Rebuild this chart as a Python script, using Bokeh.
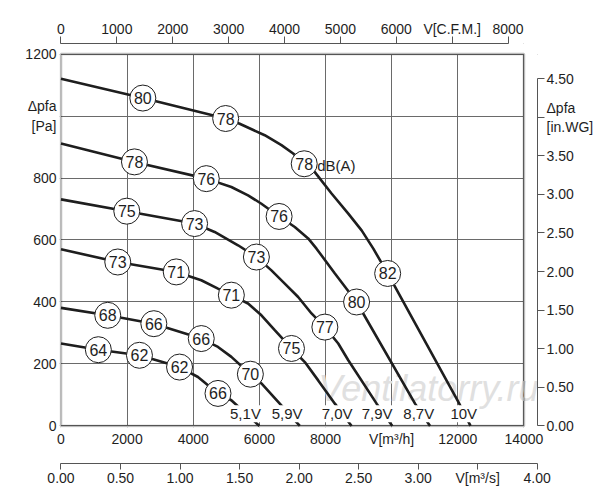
from bokeh.plotting import figure
from bokeh.models import (Range1d, LinearAxis, FixedTicker, BoxAnnotation, Label,
                          LabelSet, ColumnDataSource, Grid, PrintfTickFormatter)
from bokeh.core.properties import value
from bokeh.embed import file_html
from bokeh.resources import INLINE

# ---------------- data ----------------
flow_ticks = [0, 2000, 4000, 6000, 8000, 10000, 12000, 14000]      # m3/h
pa_ticks = [0, 200, 400, 600, 800, 1000, 1200]                      # Pa
cfm_ticks = [0, 1000, 2000, 3000, 4000, 5000, 6000, 7000, 8000]     # CFM
m3s_ticks = [0.0, 0.5, 1.0, 1.5, 2.0, 2.5, 3.0, 3.5, 4.0]           # m3/s
inwg_ticks = [0.0, 0.5, 1.0, 1.5, 2.0, 2.5, 3.0, 3.5, 4.0, 4.5]     # in.WG

q_10V = [0, 2475, 4980, 5403, 6161, 6667, 7021, 7355, 7676, 8182, 8688, 9091, 9445, 9879, 12020, 12384]
p_10V = [1120, 1058, 992, 975, 938, 906, 879, 846, 819, 750, 685, 631, 572, 492, 77, 0]

q_87V = [0, 2222, 4394, 5152, 5657, 6061, 6596, 7070, 7475, 7727, 8283, 8939, 10707, 11161]
p_87V = [911, 852, 798, 771, 744, 717, 676, 642, 605, 572, 492, 400, 72, 0]

q_79V = [0, 1990, 4040, 4646, 5354, 5909, 6364, 6767, 7172, 7576, 7980, 8384, 8688, 9545, 10020]
p_79V = [731, 693, 653, 626, 583, 545, 502, 459, 416, 363, 319, 266, 212, 72, 0]

q_70V = [0, 1717, 3485, 4242, 4748, 5152, 5657, 6061, 6464, 6970, 7373, 7778, 8283, 8788]
p_70V = [570, 529, 497, 470, 443, 422, 395, 357, 309, 250, 206, 147, 72, 0]

q_59V = [0, 1414, 2808, 4242, 4748, 5152, 5727, 6061, 6616, 7222]
p_59V = [381, 357, 330, 282, 255, 223, 167, 137, 72, 0]

q_51V = [0, 1130, 2373, 3585, 4142, 4748, 5151, 6000]
p_51V = [266, 246, 228, 190, 158, 105, 83, 0]

curves = [(q_10V, p_10V), (q_87V, p_87V), (q_79V, p_79V),
          (q_70V, p_70V), (q_59V, p_59V), (q_51V, p_51V)]

# sound level markers dB(A)
db_q = [2475, 4980, 7355, 9879,
        2222, 4394, 6596, 8939,
        1990, 4040, 5909, 7980,
        1717, 3485, 5152, 6970,
        1414, 2808, 4242, 5727,
        1130, 2373, 3585, 4748]
db_p = [1058, 992, 846, 492,
        852, 798, 676, 400,
        693, 653, 545, 319,
        529, 497, 422, 250,
        357, 330, 282, 167,
        246, 228, 190, 105]
db_text = ["80", "78", "78", "82",
           "78", "76", "76", "80",
           "75", "73", "73", "77",
           "73", "71", "71", "75",
           "68", "66", "66", "70",
           "64", "62", "62", "66"]

# control voltage labels
volt_q = [5579, 6840, 8352, 9562, 10820, 12181]
volt_p = [39, 39, 39, 39, 39, 39]
volt_text = ["5,1V", "5,9V", "7,0V", "7,9V", "8,7V", "10V"]

M3H_PER_CFM = 1.69
M3H_PER_M3S = 3600.0
PA_PER_INWG = 249.09

# ---------------- figure ----------------
FONT = "Liberation Sans"
INK = "#1e1e1e"
X0, X1 = -45, 14410
Y0, Y1 = -5, 1234

p = figure(frame_width=478, frame_height=384,
           x_range=Range1d(X0, X1), y_range=Range1d(Y0, Y1),
           x_axis_type=None, y_axis_type=None,
           output_backend="svg", toolbar_location=None,
           min_border_left=59, min_border_top=43, min_border_right=4,
           min_border_bottom=4, background_fill_color="white",
           border_fill_color="white")
p.outline_line_color = None

p.extra_x_ranges = {"cfm": Range1d(X0 / M3H_PER_CFM, X1 / M3H_PER_CFM),
                    "m3s": Range1d(X0 / M3H_PER_M3S, X1 / M3H_PER_M3S)}
p.extra_y_ranges = {"inwg": Range1d(Y0 / PA_PER_INWG, Y1 / PA_PER_INWG)}


def style(ax, line=True, tick_out=0, standoff=3):
    ax.major_label_text_font = FONT
    ax.major_label_text_font_size = "14px"
    ax.major_label_text_color = INK
    ax.minor_tick_line_color = None
    ax.major_tick_in = 0
    ax.major_tick_out = tick_out
    ax.major_label_standoff = standoff
    if line:
        ax.axis_line_color = "#555555"
        ax.axis_line_width = 1
        ax.major_tick_line_color = "#555555"
    else:
        ax.axis_line_color = None
        ax.major_tick_line_color = None


# left: Pa
ax_pa = LinearAxis(ticker=FixedTicker(ticks=pa_ticks),
                   major_label_overrides={1000: "Δpfa\n[Pa]"})
style(ax_pa, line=False, standoff=3)
p.add_layout(ax_pa, "left")

# below: m3/h
ax_m3h = LinearAxis(ticker=FixedTicker(ticks=flow_ticks),
                    major_label_overrides={10000: "V[m³/h]"},
                    axis_label=" ", axis_label_text_font_size="10px",
                    axis_label_standoff=0)
style(ax_m3h, line=False, standoff=3)
p.add_layout(ax_m3h, "below")

# below: m3/s
ax_m3s = LinearAxis(x_range_name="m3s", ticker=FixedTicker(ticks=m3s_ticks),
                    formatter=PrintfTickFormatter(format="%.2f"),
                    major_label_overrides={3.5: "V[m³/s]"}, bounds=(0, 4))
style(ax_m3s, line=True, tick_out=6, standoff=0)
p.add_layout(ax_m3s, "below")

# above: CFM
ax_cfm = LinearAxis(x_range_name="cfm", ticker=FixedTicker(ticks=cfm_ticks),
                    major_label_overrides={7000: "V[C.F.M.]"}, bounds=(0, 8000))
style(ax_cfm, line=True, tick_out=7, standoff=0)
p.add_layout(ax_cfm, "above")

# right: in.WG
ax_wg = LinearAxis(y_range_name="inwg", ticker=FixedTicker(ticks=inwg_ticks),
                   formatter=PrintfTickFormatter(format="%.2f"),
                   major_label_overrides={4.0: "Δpfa\n[in.WG]"}, bounds=(0, 4.5))
style(ax_wg, line=True, tick_out=7, standoff=2)
p.add_layout(ax_wg, "right")

# grids
p.add_layout(Grid(dimension=0, ticker=FixedTicker(ticks=flow_ticks),
                  grid_line_color="#6a6a6a", grid_line_width=1))
p.add_layout(Grid(dimension=1, ticker=FixedTicker(ticks=pa_ticks),
                  grid_line_color="#6a6a6a", grid_line_width=1))

# mask grid outside the 0..14000 x 0..1200 box
for kw in (dict(left=14000), dict(bottom=1200), dict(right=0), dict(top=0)):
    p.add_layout(BoxAnnotation(fill_color="white", fill_alpha=1,
                               line_color=None, level="underlay", **kw))

# watermark
p.add_layout(Label(x=7787, y=121, text="Ventilatorry.ru", text_font=FONT,
                   text_font_style="italic", text_font_size="36px",
                   text_color="#e0e0e0", text_baseline="middle",
                   level="underlay"))

# curves
for q, pr in curves:
    p.line(q, pr, line_width=2.6, line_color=INK)

# dB(A) markers
p.scatter(db_q, db_p, marker="circle", size=26, fill_color="white",
          line_color=INK, line_width=1)
p.text(db_q, db_p, text=db_text, text_align="center", text_baseline="middle",
       text_font=value(FONT), text_font_size="16px", text_color=INK)

p.add_layout(Label(x=7747, y=840, text="dB(A)", text_font=FONT,
                   text_font_size="15px", text_color=INK,
                   text_baseline="middle", text_align="left"))

# voltage labels
volt_src = ColumnDataSource(dict(q=volt_q, p=volt_p, t=volt_text))
p.add_layout(LabelSet(x="q", y="p", text="t", source=volt_src,
                      text_align="center", text_baseline="middle",
                      text_font=value(FONT), text_font_size="15px",
                      text_color=INK, background_fill_color="white"))

# heavy frame
p.add_layout(BoxAnnotation(left=0, right=14000, bottom=0, top=1200,
                           fill_alpha=0, line_color="#222222", line_width=2.5))

open("out.html", "w").write(file_html(p, INLINE))
